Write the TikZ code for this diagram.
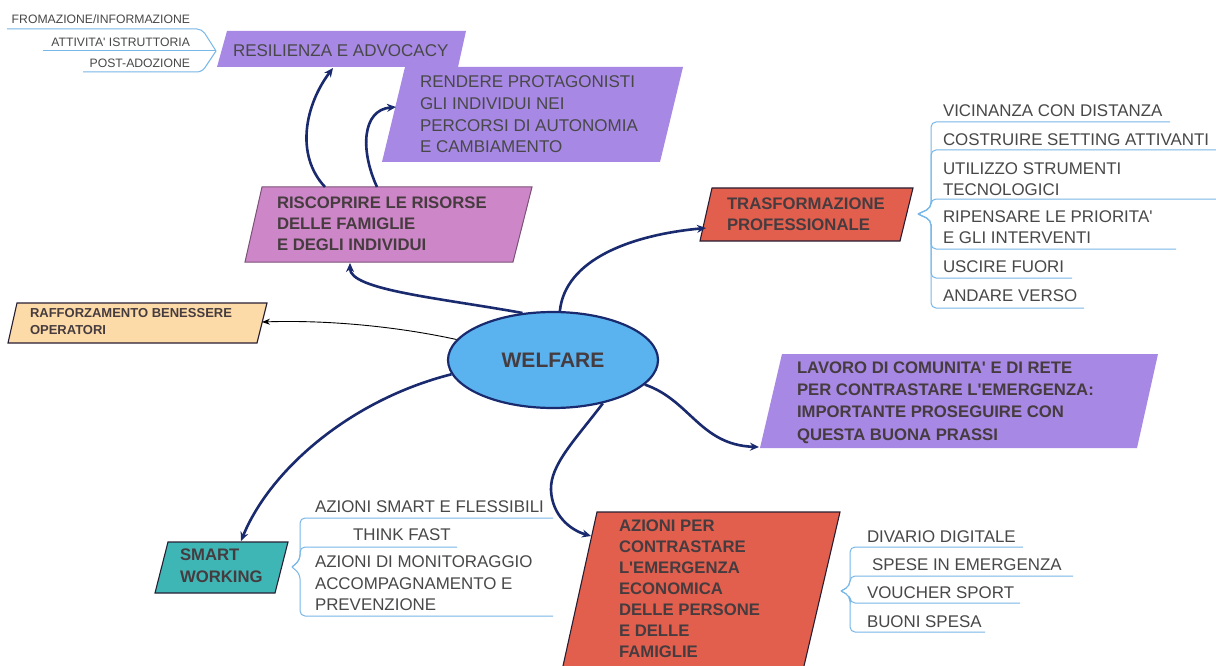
\documentclass[tikz,border=0pt]{standalone}
\usepackage{fontspec}
\setmainfont{Liberation Sans}
\usetikzlibrary{arrows.meta,shapes.geometric}
\definecolor{navy}{RGB}{26,42,110}
\definecolor{purp}{RGB}{167,136,228}
\definecolor{pinkb}{RGB}{205,135,200}
\definecolor{redb}{RGB}{226,95,77}
\definecolor{orab}{RGB}{253,219,168}
\definecolor{tealb}{RGB}{62,182,182}
\definecolor{ellb}{RGB}{90,178,238}
\definecolor{lblue}{RGB}{120,184,232}
\definecolor{txt}{RGB}{72,72,72}
\definecolor{btxt}{RGB}{70,60,64}
\definecolor{bord}{RGB}{40,30,50}
\newcommand{\itemfnt}{\fontsize{16.9}{21}\selectfont}
\newcommand{\smallfnt}{\fontsize{12.2}{14}\selectfont}
\newcommand{\boxrg}{\fontsize{17}{21.7}\selectfont}
\newcommand{\boxbf}{\fontsize{16.7}{21}\selectfont\bfseries}
\newcommand{\ap}{\textquotesingle{}}
\begin{document}
\begin{tikzpicture}[x=1pt,y=-1pt,
  conn/.style={draw=navy,line width=2.6pt,-{Stealth[length=9pt,width=8pt]}},
  thinconn/.style={draw=black,line width=0.9pt,-{Stealth[length=8pt,width=6pt]}},
  brl/.style={draw=lblue,line width=1pt,rounded corners=5pt},
  itm/.style={inner sep=0pt,outer sep=0pt,text=txt,font=\itemfnt,anchor=base west},
  itmml/.style={itm,anchor=west,align=left},
  smallitm/.style={inner sep=0pt,outer sep=0pt,text=txt,font=\smallfnt,anchor=base east},
  btext/.style={inner sep=0pt,outer sep=0pt,text=btxt,font=\boxbf,anchor=west,align=left},
  rtext/.style={inner sep=0pt,outer sep=0pt,text=txt,font=\boxrg,anchor=west,align=left},
  edge/.style={draw=bord,line width=1.1pt}]
\fill[white] (0,0) rectangle (1216,666);
\useasboundingbox (0,0) rectangle (1216,666);

% ---------- shapes ----------
\fill[purp] (227,31) -- (466,31) -- (458,67) -- (217,67) -- cycle;
\fill[purp] (405,67) -- (683,67) -- (660,162) -- (382,162) -- cycle;
\filldraw[fill=pinkb,draw=pinkb!60!black,line width=1pt] (262,187) -- (532,187) -- (513,262) -- (245,262) -- cycle;
\filldraw[fill=redb,edge] (712,188) -- (913,188) -- (900,241) -- (700,241) -- cycle;
\filldraw[fill=orab,edge] (17,303) -- (267,303) -- (257,343) -- (8,343) -- cycle;
\fill[purp] (782,354) -- (1158,354) -- (1137,448) -- (760,448) -- cycle;
\filldraw[fill=tealb,edge] (168,542) -- (288,542) -- (275,593) -- (155,593) -- cycle;
\fill[redb] (597,512) -- (840,512) -- (804,666) -- (563,666) -- cycle;
\draw[edge] (563,666) -- (597,512) -- (840,512) -- (804,666);

\node[ellipse,draw=navy,line width=2.2pt,fill=ellb,minimum width=210pt,minimum height=96pt,
  inner sep=0pt,text=btxt,font=\fontsize{21}{24}\selectfont\bfseries] (W) at (553,360) {WELFARE};

% ---------- box texts ----------
\node[itm,font=\boxrg] (res) at (233,57) {RESILIENZA E ADVOCACY};
\node[rtext] (ren) at (420,114.5) {RENDERE PROTAGONISTI\\GLI INDIVIDUI NEI\\PERCORSI DI AUTONOMIA\\E CAMBIAMENTO};
\node[btext] (ris) at (277,224) {RISCOPRIRE LE RISORSE\\DELLE FAMIGLIE\\E DEGLI INDIVIDUI};
\node[btext] (tra) at (727,214.5) {TRASFORMAZIONE\\PROFESSIONALE};
\node[btext,font=\fontsize{13}{17}\selectfont\bfseries] (raf) at (30,321.5) {RAFFORZAMENTO BENESSERE\\OPERATORI};
\node[btext,font=\fontsize{16.7}{22.3}\selectfont\bfseries] (lav) at (797,402.5) {LAVORO DI COMUNITA\ap{} E DI RETE\\PER CONTRASTARE L\ap{}EMERGENZA:\\IMPORTANTE PROSEGUIRE CON\\QUESTA BUONA PRASSI};
\node[btext,font=\fontsize{16.7}{22}\selectfont\bfseries] (sw) at (180,566) {SMART\\WORKING};
\node[btext] (az) at (619,589) {AZIONI PER\\CONTRASTARE\\L\ap{}EMERGENZA\\ECONOMICA\\DELLE PERSONE\\E DELLE\\FAMIGLIE};

% ---------- connector end points ----------
\coordinate (risB) at (350,263);
\coordinate (risT1) at (325,187);
\coordinate (risT2) at (377,187);
\coordinate (resB) at (333,68);
\coordinate (renL) at (396,107);
\coordinate (traL) at (706,228);
\coordinate (rafR) at (262,322);
\coordinate (lavL) at (759,447);
\coordinate (swT) at (241,541);
\coordinate (azL) at (591,536);

% ---------- connectors ----------
\draw[conn] (W.123) .. controls (440,298) and (350,290) .. (risB);
\draw[conn] (risT1) .. controls (295,155) and (305,105) .. (resB);
\draw[conn] (risT2) .. controls (360,150) and (362,110) .. (renL);
\draw[conn] (W.82) .. controls (565,260) and (630,235) .. (traL);
\draw[thinconn] (W.168) .. controls (390,325) and (320,320) .. (rafR);
\draw[conn] (W.-15) .. controls (690,400) and (700,445) .. (lavL);
\draw[conn] (W.188) .. controls (350,400) and (270,470) .. (swT);
\draw[conn] (W.-41) .. controls (575,440) and (550,465) .. (551,490) .. controls (552,515) and (570,530) .. (azL);

% ---------- left list (resilienza) ----------
\coordinate (jL) at (216,51);
\draw[brl] (jL) -- (202,29) -- (7,29);
\draw[brl] (jL) -- (43,51);
\draw[brl] (jL) -- (202,72) -- (83,72);
\node[smallitm] (l1) at (190,24) {FROMAZIONE/INFORMAZIONE};
\node[smallitm] (l2) at (190,46.5) {ATTIVITA\ap{} ISTRUTTORIA};
\node[smallitm] (l3) at (190,68) {POST-ADOZIONE};

% ---------- right list (trasformazione) ----------
\coordinate (jT) at (918,214);
\draw[brl] (jT) -- (931,208) -- (931,122) -- (1170,122);
\draw[brl] (jT) -- (931,208) -- (931,150) -- (1216,150);
\draw[brl] (jT) -- (931,208) -- (931,199) -- (1216,199);
\draw[brl] (jT) -- (931,220) -- (931,249) -- (1176,249);
\draw[brl] (jT) -- (931,220) -- (931,278) -- (1072,278);
\draw[brl] (jT) -- (931,220) -- (931,308) -- (1084,308);
\node[itm] (t1) at (943,117) {VICINANZA CON DISTANZA};
\node[itm] (t2) at (943,146) {COSTRUIRE SETTING ATTIVANTI};
\node[itmml] (t3) at (943,179) {UTILIZZO STRUMENTI\\TECNOLOGICI};
\node[itmml] (t4) at (943,227.5) {RIPENSARE LE PRIORITA\ap\\E GLI INTERVENTI};
\node[itm] (t5) at (943,272) {USCIRE FUORI};
\node[itm] (t6) at (943,301) {ANDARE VERSO};

% ---------- smart working list ----------
\coordinate (jS) at (292,567);
\draw[brl] (jS) -- (300,560) -- (300,518) -- (553,518);
\draw[brl] (jS) -- (300,560) -- (300,547) -- (457,547);
\draw[brl] (jS) -- (300,574) -- (300,616) -- (553,616);
\node[itm] (s1) at (315,512) {AZIONI SMART E FLESSIBILI};
\node[itm] (s2) at (353,540) {THINK FAST};
\node[itmml,font=\fontsize{16.9}{21.5}\selectfont] (s3) at (315,583.5) {AZIONI DI MONITORAGGIO\\ACCOMPAGNAMENTO E\\PREVENZIONE};

% ---------- azioni list ----------
\coordinate (jA) at (841,591);
\draw[brl] (jA) -- (850,586) -- (850,547) -- (1023,547);
\draw[brl] (jA) -- (850,586) -- (850,576) -- (1073,576);
\draw[brl] (jA) -- (850,596) -- (850,603) -- (1020,603);
\draw[brl] (jA) -- (850,596) -- (850,632) -- (985,632);
\node[itm] (a1) at (867,542) {DIVARIO DIGITALE};
\node[itm] (a2) at (872,570) {SPESE IN EMERGENZA};
\node[itm] (a3) at (867,598) {VOUCHER SPORT};
\node[itm] (a4) at (867,627) {BUONI SPESA};
\end{tikzpicture}
\end{document}
